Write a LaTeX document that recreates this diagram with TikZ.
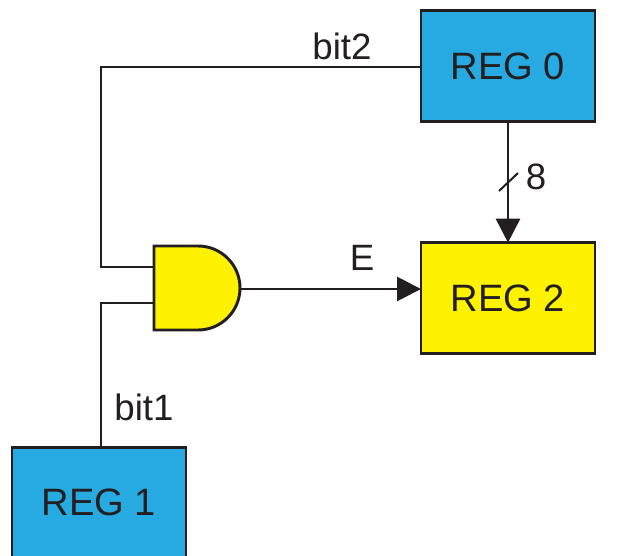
\documentclass[tikz,border=0pt]{standalone}
\usepackage{fontspec}
\setmainfont{Liberation Sans}
\usetikzlibrary{arrows.meta}
\definecolor{regblue}{HTML}{27AAE1}
\definecolor{regyellow}{HTML}{FFF200}
\definecolor{ink}{HTML}{231F20}
\begin{document}
\begin{tikzpicture}[x=0.75pt,y=-0.75pt,
 reg/.style={draw=ink,line width=2pt,minimum width=130.5pt,minimum height=83pt,inner sep=0pt,font=\fontsize{28.6}{28.6}\selectfont,text=ink},
 wire/.style={draw=ink,line width=2.2pt},
 lab/.style={font=\fontsize{27.5}{27.5}\selectfont,text=ink,inner sep=0pt},
 tip/.style={-{Triangle[length=18pt,width=18pt]},shorten >=-1pt}]
\useasboundingbox[fill=white] (0,0) rectangle (625,556);
\node[reg,fill=regblue] (r0) at (508,66) {REG 0};
\node[reg,fill=regyellow] (r2) at (508,298) {REG 2};
\node[reg,fill=regblue] (r1) at (99,502.5) {REG 1};
\coordinate (a1) at (154,267);
\coordinate (a2) at (154,303);
\coordinate (c1) at (101,267);
\coordinate (c2) at (101,67);
\coordinate (c3) at (101,303);
\coordinate (out) at (240,289);
\coordinate (s1) at (499,191);
\coordinate (s2) at (518,173);
\draw[wire,line join=miter] (r0.west|-c2) -- (c2) -- (c1) -- (a1);
\draw[wire] (r1.north-|c3) -- (c3) -- (a2);
\draw[wire,fill=regyellow] (154,246) -- (198,246) arc[start angle=-90,end angle=90,radius=42] -- (154,330) -- cycle;
\draw[wire,tip] (out) -- (out-|r2.west);
\draw[wire,tip] (r0.south) -- (r2.north);
\draw[wire,line width=1.5pt] (s1) -- (s2);
\node[lab] (l2) at (342,46) {bit2};
\node[lab] (l1) at (144,407) {bit1};
\node[lab] (le) at (362,258) {E};
\node[lab] (l8) at (536,177) {8};
\end{tikzpicture}
\end{document}
